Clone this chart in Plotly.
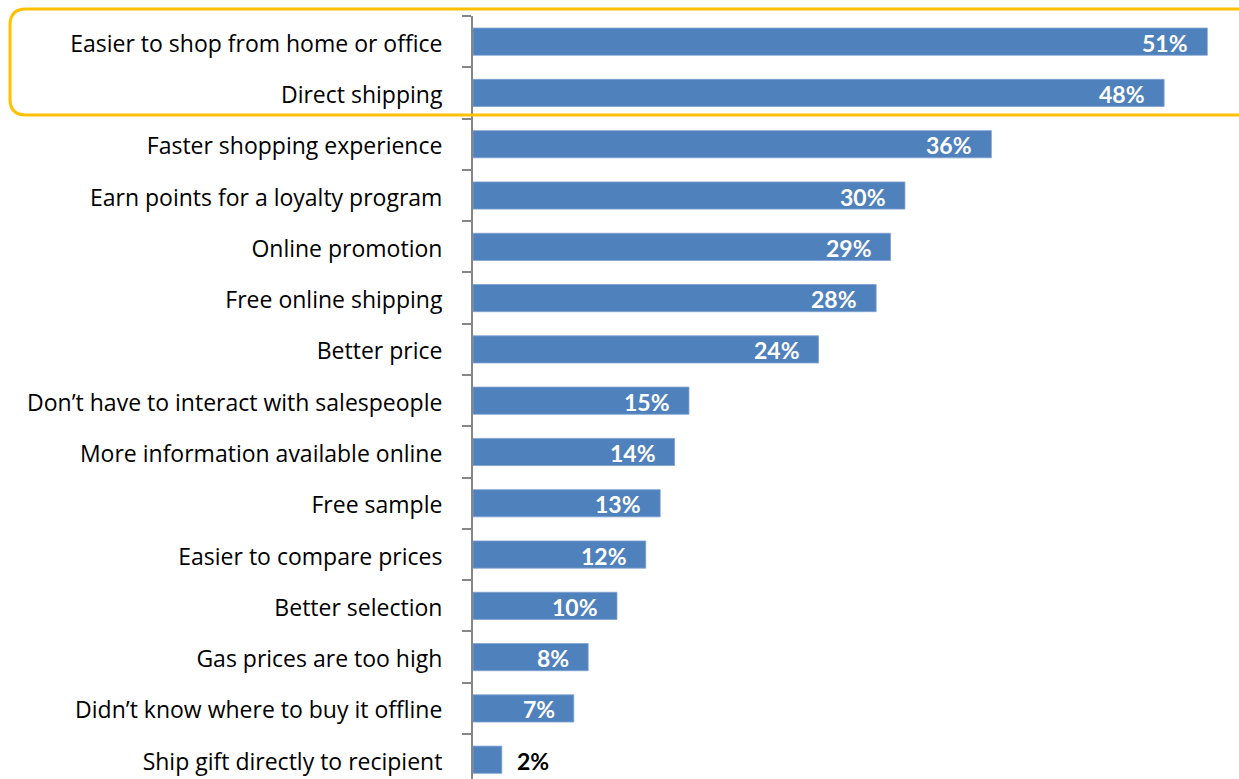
import plotly.graph_objects as go

# Reasons for shopping online (share of respondents, %)
categories = [
    "Easier to shop from home or office",
    "Direct shipping",
    "Faster shopping experience",
    "Earn points for a loyalty program",
    "Online promotion",
    "Free online shipping",
    "Better price",
    "Don\u2019t have to interact with salespeople",
    "More information available online",
    "Free sample",
    "Easier to compare prices",
    "Better selection",
    "Gas prices are too high",
    "Didn\u2019t know where to buy it offline",
    "Ship gift directly to recipient",
]
values = [51, 48, 36, 30, 29, 28, 24, 15, 14, 13, 12, 10, 8, 7, 2]

W, H = 1239, 779
ML, MR, MT, MB = 473, 0, 16, 0
PW, PH = W - ML - MR, H - MT - MB

BAR_COLOR = "#4F81BD"
AXIS_COLOR = "#868686"
LABEL_FONT = "Open Sans"
VALUE_FONT = "Lato"

fig = go.Figure(
    go.Bar(
        x=values,
        y=categories,
        orientation="h",
        marker=dict(color=BAR_COLOR, line=dict(color="#7EA1CF", width=0.8)),
        hoverinfo="skip",
    )
)

# value labels: white inside the bar end, black outside for short bars
for cat, v in zip(categories, values):
    inside = v >= 5
    fig.add_annotation(
        x=v, y=cat, xref="x", yref="y",
        text=f"<b>{v}%</b>",
        showarrow=False,
        xanchor="right" if inside else "left",
        xshift=-17 if inside else 13,
        yshift=-1,
        font=dict(family=VALUE_FONT, size=23, color="white" if inside else "black"),
    )


def px_x(p):
    return (p - ML) / PW


def px_y(p):
    return (H - MB - p) / PH


# rounded highlight frame around the two leading reasons
x0, x1, y0, y1, r = 10, 1260, 9, 115, 16
path = (
    f"M {px_x(x0 + r)},{px_y(y0)} "
    f"L {px_x(x1 - r)},{px_y(y0)} "
    f"Q {px_x(x1)},{px_y(y0)} {px_x(x1)},{px_y(y0 + r)} "
    f"L {px_x(x1)},{px_y(y1 - r)} "
    f"Q {px_x(x1)},{px_y(y1)} {px_x(x1 - r)},{px_y(y1)} "
    f"L {px_x(x0 + r)},{px_y(y1)} "
    f"Q {px_x(x0)},{px_y(y1)} {px_x(x0)},{px_y(y1 - r)} "
    f"L {px_x(x0)},{px_y(y0 + r)} "
    f"Q {px_x(x0)},{px_y(y0)} {px_x(x0 + r)},{px_y(y0)} Z"
)
fig.add_shape(
    type="path", path=path, xref="paper", yref="paper",
    line=dict(color="#FFC000", width=3), fillcolor="rgba(0,0,0,0)", layer="above",
)

n = len(categories)
fig.update_layout(
    width=W, height=H,
    margin=dict(l=ML, r=MR, t=MT, b=MB, pad=0),
    paper_bgcolor="white", plot_bgcolor="white",
    bargap=0.47,
    showlegend=False,
    font=dict(family=LABEL_FONT, color="black"),
    xaxis=dict(range=[0, 53.2], visible=False, fixedrange=True),
    yaxis=dict(
        type="category",
        autorange=False,
        range=[n - 1 + 0.376, -0.5],
        showline=True, linecolor=AXIS_COLOR, linewidth=2,
        ticks="outside", tickson="boundaries", ticklen=9,
        tickcolor=AXIS_COLOR, tickwidth=2,
        ticklabelstandoff=24,
        ticklabelshift=-2,
        tickfont=dict(family=LABEL_FONT, size=23, color="black"),
        showgrid=False, zeroline=False, fixedrange=True,
    ),
)

fig.write_html("out.html")
